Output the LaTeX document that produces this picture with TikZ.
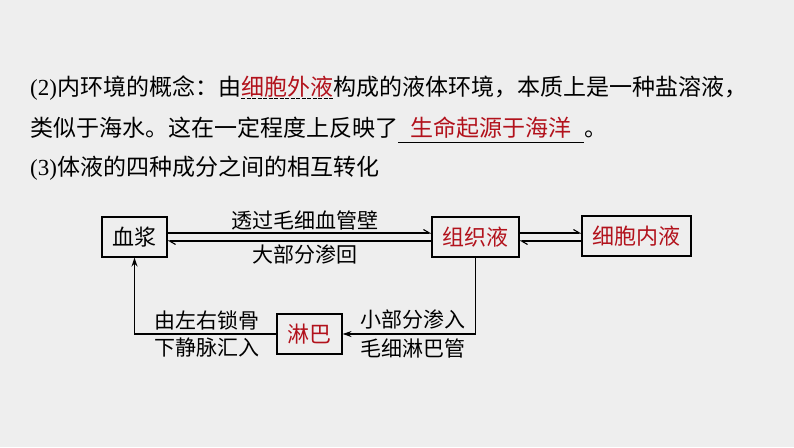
\documentclass[tikz,border=0pt]{standalone}
\usepackage{fontspec}
\setmainfont{Liberation Serif}
\newfontfamily\cjk{Noto Sans CJK SC}
\usetikzlibrary{arrows.meta,positioning}

\definecolor{ansred}{RGB}{178,18,28}
\definecolor{pagegray}{RGB}{238,238,238}

\tikzset{
    txt/.style={inner sep=0pt,font=\fontsize{23}{28}\selectfont\cjk},
    box/.style={draw,line width=1.1pt,fill=pagegray,inner xsep=10.5pt,inner ysep=0pt,
        minimum height=40pt,font=\fontsize{22}{26}\selectfont\cjk},
    lbl/.style={inner sep=0pt,font=\fontsize{21}{25}\selectfont\cjk},
    pass/.style={line width=1.1pt,-{Straight Barb[left,length=6pt,width=7pt]}},
    flow/.style={line width=1.1pt,-{Stealth[length=9pt,width=6pt]}}
}

\begin{document}
\begin{tikzpicture}[x=1pt,y=-1pt]
            \fill[pagegray] (0, 0) rectangle (794, 447);
            \useasboundingbox (0, 0) rectangle (794, 447);

            % text lines
            \node[txt,anchor=west] (l1a) at (30, 88) {{\rmfamily (2)}内环境的概念：由};
            \node[txt,anchor=base west,text=ansred] (l1b) at (l1a.base east) {细胞外液};
            \node[txt,anchor=base west] (l1c) at (l1b.base east) {构成的液体环境，本质上是一种盐溶液，};
            \draw[line width=0.9pt,dash pattern=on 4pt off 1.5pt] ([yshift=-3pt]l1b.base west) -- ([yshift=-3pt]l1b.base east);

            \node[txt,anchor=west] (l2a) at (30, 128) {类似于海水。这在一定程度上反映了};
            \node[txt,anchor=base west,inner xsep=12pt,text=ansred] (l2b) at (l2a.base east) {生命起源于海洋};
            \node[txt,anchor=base west] (l2c) at (l2b.base east) {。};
            \draw[line width=0.8pt] ([yshift=-6pt]l2b.base west) -- ([yshift=-6pt]l2b.base east);

            \node[txt,anchor=west] (l3a) at (30, 168) {{\rmfamily (3)}体液的四种成分之间的相互转化};

            % boxes
            \node[box] (xj) at (134.5, 237) {血浆};
            \node[box,text=ansred] (zzy) at (475.5, 237) {组织液};
            \node[box,text=ansred] (xbny) at (636.5, 236) {细胞内液};
            \node[box,text=ansred] (lb) at (309.5, 334) {淋巴};

            % connectors
            \draw[pass] ([yshift=4pt]xj.east) -- ([yshift=4pt]zzy.west);
            \draw[pass] ([yshift=-4pt]zzy.west) -- ([yshift=-4pt]xj.east);
            \draw[pass] ([yshift=4pt]zzy.east) -- ([yshift=4pt]zzy.east -| xbny.west);
            \draw[pass] ([yshift=-4pt]zzy.east -| xbny.west) -- ([yshift=-4pt]zzy.east);
            \draw[flow] (zzy.south) |- (lb.east);
            \draw[flow] (lb.west) -| (xj.south);

            \node[lbl] (ta) at (305, 220) {透过毛细血管壁};
            \node[lbl] (tb) at (305, 255) {大部分渗回};
            \node[lbl] (tc) at (207, 320) {由左右锁骨};
            \node[lbl] (td) at (207, 348) {下静脉汇入};
            \node[lbl] (te) at (413, 320) {小部分渗入};
            \node[lbl] (tf) at (413, 348) {毛细淋巴管};
\end{tikzpicture}
\end{document}
